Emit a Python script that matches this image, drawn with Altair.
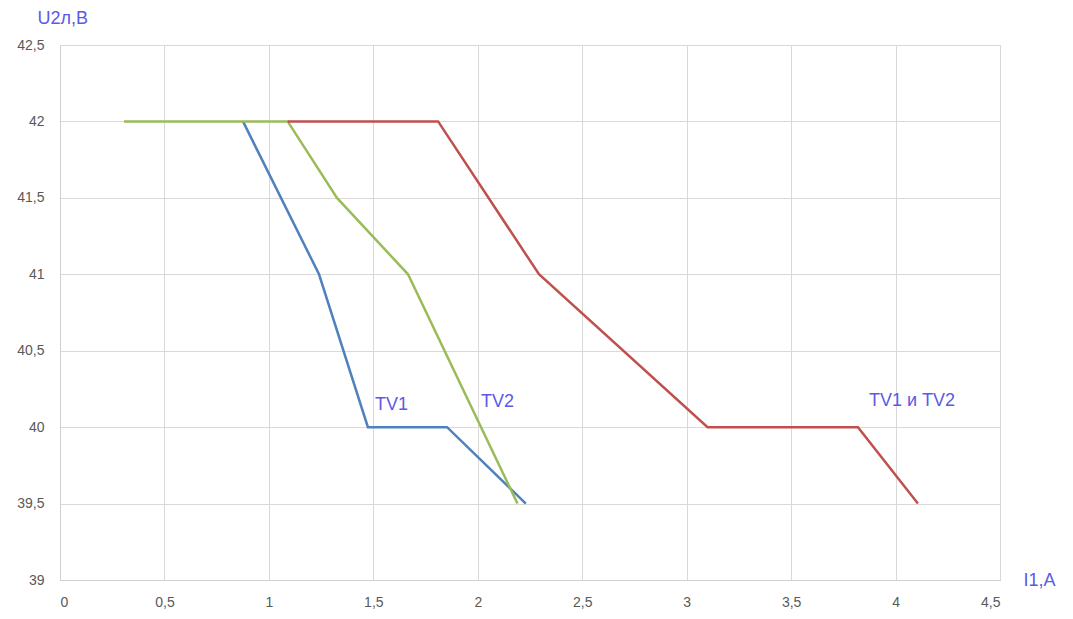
import altair as alt
import pandas as pd

# Series data (I1, A -> U2л, В)
tv1_x = [0.876, 1.24, 1.474, 1.853, 2.23]
tv1_y = [42.0, 41.0, 40.0, 40.0, 39.5]

tv2_x = [0.306, 1.09, 1.326, 1.666, 2.19]
tv2_y = [42.0, 42.0, 41.5, 41.0, 39.5]

both_x = [1.09, 1.81, 2.293, 3.10, 3.82, 4.107]
both_y = [42.0, 42.0, 41.0, 40.0, 40.0, 39.5]

series_names = ["TV1", "TV2", "TV1 и TV2"]
series_colors = ["#4F81BD", "#9BBB59", "#C0504D"]

label_text = ["TV1", "TV2", "TV1 и TV2"]
label_x = [1.508, 2.015, 3.873]
label_y = [40.145, 40.164, 40.17]

rows = []
for name, xs, ys in zip(series_names, [tv1_x, tv2_x, both_x], [tv1_y, tv2_y, both_y]):
    for i, (a, b) in enumerate(zip(xs, ys)):
        rows.append({"series": name, "x": a, "y": b, "order": i})
df = pd.DataFrame(rows)
labels = pd.DataFrame({"text": label_text, "x": label_x, "y": label_y})

FONT = "Liberation Sans"
label_expr = "replace(format(datum.value, '.1~f'), '.', ',')"

x_scale = alt.Scale(domain=[0, 4.5], nice=False, zero=False)
y_scale = alt.Scale(domain=[39, 42.5], nice=False, zero=False)

x_axis = alt.Axis(
    values=[0, 0.5, 1, 1.5, 2, 2.5, 3, 3.5, 4, 4.5],
    labelExpr=label_expr,
    title="I1,A",
    titleX=963, titleY=0, titleAlign="left", titleBaseline="middle",
    titleAngle=0, titleColor="#5a5ae6", titleFont=FONT, titleFontSize=18,
    titleFontWeight="normal",
    labelColor="#595959", labelFont=FONT, labelFontSize=14, labelPadding=15,
    ticks=False, grid=True, gridColor="#d9d9d9", domainColor="#d0d0d0",
)
y_axis = alt.Axis(
    values=[39, 39.5, 40, 40.5, 41, 41.5, 42, 42.5],
    labelExpr=label_expr,
    title="U2л,В",
    titleX=-23, titleY=-27, titleAlign="left", titleBaseline="middle",
    titleAngle=0, titleColor="#5a5ae6", titleFont=FONT, titleFontSize=18,
    titleFontWeight="normal",
    labelColor="#595959", labelFont=FONT, labelFontSize=14, labelPadding=16,
    ticks=False, grid=True, gridColor="#d9d9d9", domainColor="#d0d0d0",
)

lines = alt.Chart(df).mark_line(strokeWidth=2.5).encode(
    x=alt.X("x:Q", scale=x_scale, axis=x_axis),
    y=alt.Y("y:Q", scale=y_scale, axis=y_axis),
    color=alt.Color("series:N", scale=alt.Scale(domain=series_names, range=series_colors), legend=None),
    detail="series:N",
    order="order:Q",
)

text = alt.Chart(labels).mark_text(
    align="left", baseline="middle", font=FONT, fontSize=18, color="#5a5ae6"
).encode(
    x=alt.X("x:Q", scale=x_scale),
    y=alt.Y("y:Q", scale=y_scale),
    text="text:N",
)

chart = alt.layer(lines, text).properties(
    width=940, height=535,
    autosize=alt.AutoSizeParams(type="none"),
    padding={"left": 60, "top": 45, "right": 73, "bottom": 39},
    background="white",
).configure_view(stroke="#d9d9d9", strokeWidth=1)

chart.save("out.html", embed_options={"renderer": "svg", "actions": False})
